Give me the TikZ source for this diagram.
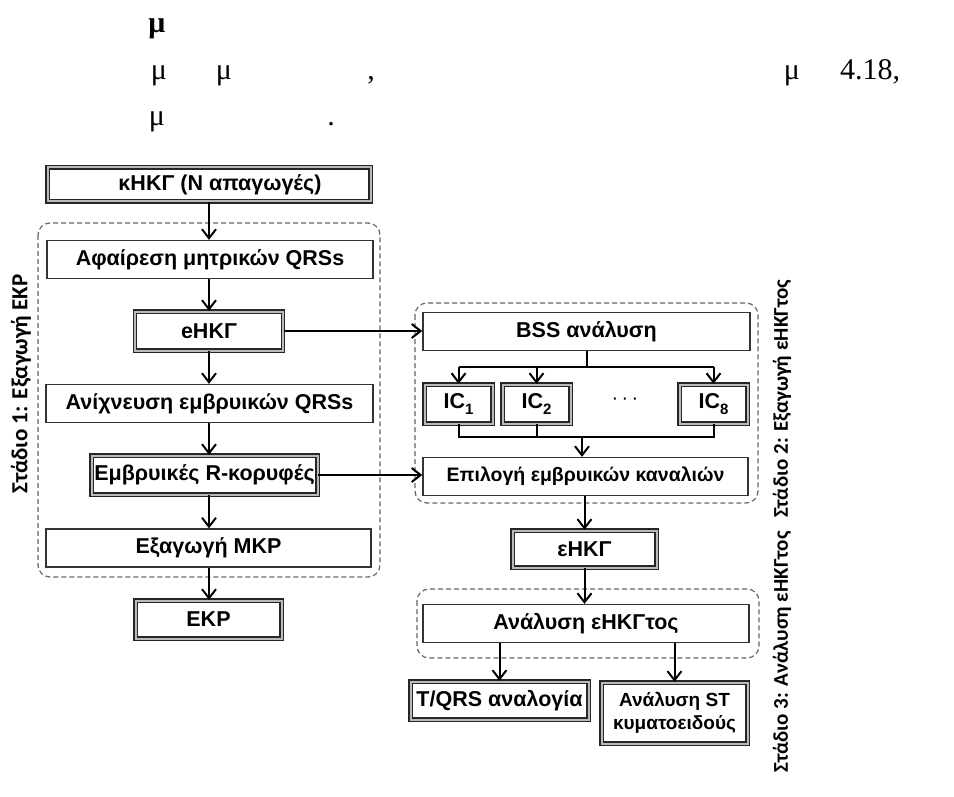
\documentclass[tikz,border=0pt]{standalone}
\usepackage{fontspec}
\setmainfont{Liberation Sans}
\newfontfamily\serif{Liberation Serif}
\newfontfamily\calib{Carlito}
\usetikzlibrary{arrows.meta}

% subscript for the IC boxes
\newcommand\icsub[1]{\raisebox{-0.3em}{\fontsize{15}{15}\selectfont #1}}

\begin{document}
\begin{tikzpicture}[x=1pt, y=-1pt,
    font=\fontsize{21.5}{25}\selectfont\bfseries,
    box/.style={draw=black!80, line width=1.3pt, inner sep=0pt, minimum height=38pt},
    dbox/.style={draw=black!85, line width=1.4pt, double=gray!55, double distance=2pt, inner sep=0pt, align=center},
    stage/.style={draw=black!60, line width=1.2pt, dash pattern=on 5pt off 3pt, rounded corners=12pt},
    arr/.style={line width=2pt, -{Straight Barb[length=9pt,width=14pt]}},
    link/.style={line width=2pt},
    stagelabel/.style={rotate=90, font=\calib\fontsize{21}{24}\selectfont\bfseries},
    frag/.style={anchor=base, inner sep=0pt, font=\serif\fontsize{30}{34}\selectfont}]
  \useasboundingbox (0,0) rectangle (954,797);

  % stray text lines above the chart
  \node[frag, font=\serif\fontsize{30}{34}\selectfont\bfseries] (t1) at (157,33) {μ};
  \node[frag] (t2a) at (159,80) {μ};
  \node[frag] (t2b) at (224,80) {μ};
  \node[frag] (t2c) at (371,80) {,};
  \node[frag] (t2d) at (792,80) {μ};
  \node[frag, anchor=base west] (t2e) at (840,80) {4.18,};
  \node[frag] (t3a) at (157,126) {μ};
  \node[frag] (t3b) at (331,126) {.};

  % stage 1
  \draw[stage] (38,223) rectangle (380,577);
  \node[dbox, minimum width=323pt, minimum height=34pt] (kecg) at (209,184.5) {\hspace*{22pt}κΗΚΓ (Ν απαγωγές)};
  \node[box, minimum width=326pt] (remove) at (210,259.5) {Αφαίρεση μητρικών QRSs};
  \node[dbox, minimum width=148pt, minimum height=39pt] (eecg) at (209,331) {eΗΚΓ};
  \node[box, minimum width=327pt] (detect) at (209.5,403.5) {Ανίχνευση εμβρυικών QRSs};
  \node[dbox, minimum width=226pt, minimum height=39pt] (rpeaks) at (204.5,475) {Εμβρυικές R-κορυφές};
  \node[box, minimum width=325pt] (mecg) at (208.5,548) {Εξαγωγή ΜΚΡ};
  \node[dbox, minimum width=146pt, minimum height=38pt] (fhr) at (208.5,619.5) {ΕΚΡ};

  \foreach \a/\b in {kecg/remove, remove/eecg, eecg/detect, detect/rpeaks, rpeaks/mecg, mecg/fhr}
    \draw[arr] (\a.south -| kecg) -- (\b.north -| kecg);

  % stage 2
  \draw[stage] (415,303) rectangle (758,503);
  \node[box, minimum width=327pt] (bss) at (586.5,331.5) {BSS ανάλυση};
  \node[dbox, minimum width=68pt, minimum height=39pt] (ic1) at (458.5,404) {IC\icsub{1}};
  \node[dbox, minimum width=68pt, minimum height=39pt] (ic2) at (536.5,404) {IC\icsub{2}};
  \node[font=\fontsize{20}{20}\selectfont] (dots) at (625,401) {·\,·\,·};
  \node[dbox, minimum width=68pt, minimum height=39pt] (ic8) at (713.5,404) {IC\icsub{8}};
  \node[box, minimum width=325pt, font=\fontsize{19.5}{23}\selectfont\bfseries] (select) at (585.5,476.5) {Επιλογή εμβρυικών καναλιών};

  \draw[link] (bss.south) -- ++(0,16) coordinate (fan);
  \draw[link] (fan -| ic1) -- (fan -| ic8);
  \foreach \i in {ic1, ic2, ic8}
    \draw[arr] (fan -| \i) -- (\i.north);

  \path (ic1.south) ++(0,13) coordinate (join);
  \draw[link] (ic1.south) -- (join) -- (join -| ic8) -- (ic8.south);
  \draw[link] (ic2.south) -- (ic2.south |- join);
  \draw[arr] (join -| 582,0) -- (select.north -| 582,0);

  \draw[arr] (eecg.east) -- (eecg.east -| bss.west);
  \draw[arr] (rpeaks.east) -- (rpeaks.east -| select.west);

  % stage 3
  \node[dbox, minimum width=144pt, minimum height=37pt] (fecg) at (584.5,549) {εΗΚΓ};
  \draw[stage] (417,589) rectangle (759,658);
  \node[box, minimum width=326pt] (analysis) at (586,623.5) {Ανάλυση εΗΚΓτος};
  \node[dbox, minimum width=178pt, minimum height=38pt] (tqrs) at (499.5,700.5) {T/QRS αναλογία};
  \node[dbox, minimum width=146pt, minimum height=61pt, font=\fontsize{19}{23}\selectfont\bfseries] (st) at (674.5,713) {Ανάλυση ST\\κυματοειδούς};

  \draw[arr] (select.south -| fecg) -- (fecg.north);
  \draw[arr] (fecg.south) -- (fecg.south |- analysis.north);
  \draw[arr] (analysis.south -| tqrs) -- (tqrs.north);
  \draw[arr] (analysis.south -| st) -- (st.north);

  % stage titles
  \node[stagelabel, font=\calib\fontsize{23}{26}\selectfont\bfseries] (s1) at (21,384) {Στάδιο 1: Εξαγωγή ΕΚΡ};
  \node[stagelabel] (s2) at (782,399) {Στάδιο 2: Εξαγωγή εΗΚΓτος};
  \node[stagelabel] (s3) at (782,652) {Στάδιο 3: Ανάλυση εΗΚΓτος};
\end{tikzpicture}
\end{document}
